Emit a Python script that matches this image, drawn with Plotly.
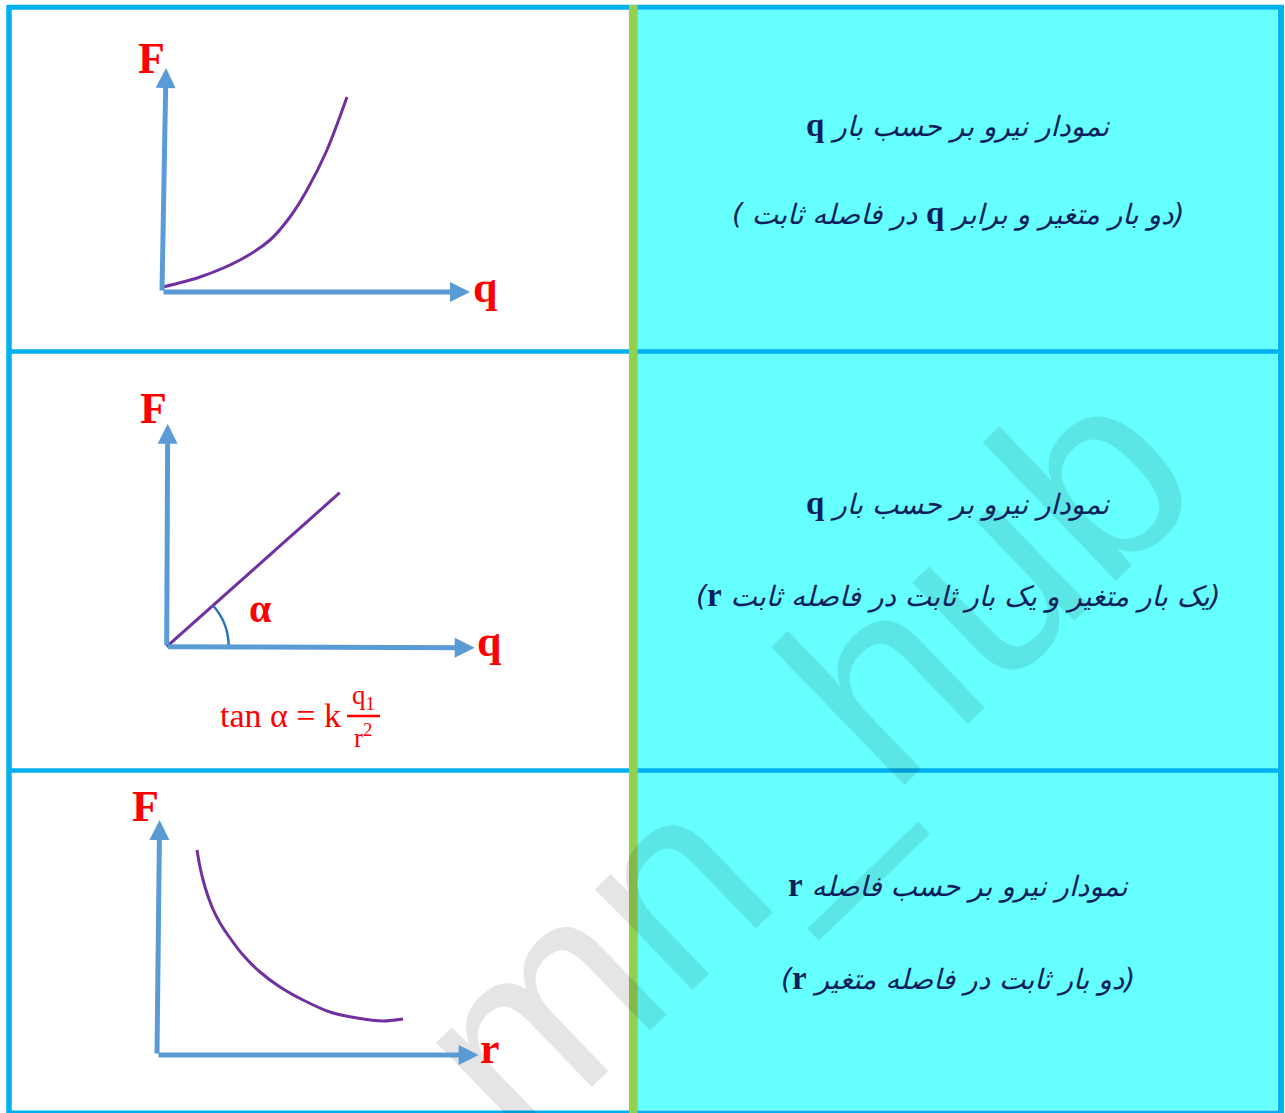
import plotly.graph_objects as go

W, H = 1285, 1113

# ---------------- data (sketch units: 1 unit ~ 1 px, origin at the axes corner) ----------------
# Row 1: F vs q (two equal variable charges, fixed distance)
curve1_q = [1, 38, 78, 108, 128, 145, 165, 185]
curve1_F = [5, 15, 32, 52, 75, 102, 142, 195]
# Row 2: F vs q (one variable charge, one fixed charge)
line2_q = [0, 173]
line2_F = [0, 154]
# Row 3: F vs r (two fixed charges, variable distance)
curve3_r = [40, 43, 48, 55, 63, 73, 86, 103, 123, 146, 173, 200, 226, 246]
curve3_F = [205, 188, 168, 148, 132, 117, 100, 83, 68, 55, 43, 37, 34, 36]

x_labels = ["q", "q", "r"]
y_labels = ["F", "F", "F"]

# right-column texts
row_title = ["نمودار نیرو بر حسب بار ", "نمودار نیرو بر حسب بار ", "نمودار نیرو بر حسب فاصله "]
row_title_var = ["q", "q", "r"]
row_note_pre = ["(دو بار متغیر و برابر ", "(یک بار متغیر و یک بار ثابت در فاصله ثابت ", "(دو بار ثابت در فاصله متغیر "]
row_note_var = ["q", "r", "r"]
row_note_post = [" در فاصله ثابت )", ")", ")"]

# ---------------- layout geometry (pixels) ----------------
origins = [(162, 292), (166.7, 646.7), (157, 1055)]
row_bounds = [(10, 349), (353, 768), (773, 1111)]
cell_left, cell_right = 12, 629
y_tips = [(4, 224), (1, 223), (2.6, 235)]
x_tips = [(308, 0), (308, -1), (321.6, 0)]
y_label_pos = [(-11, 234), (-13.7, 238), (-12, 249)]
x_label_pos = [(323, 5), (323, 5.7), (333, 6.4)]
title_y = [125, 503, 885]
note_y = [213, 595, 978]

BLUE_AX = "#5b9bd5"
PURPLE = "#7030a0"
RED = "#ff0000"
NAVY = "#0b1f5c"
CYAN = "#66ffff"
BORDER = "#00b0f0"
GREEN = "#92d050"


def px(x):
    return x / W


def py(y):
    return 1 - y / H


fig = go.Figure()
layout_axes = {}
for i in range(3):
    ox, oy = origins[i]
    yt, yb = row_bounds[i]
    n = "" if i == 0 else str(i + 1)
    layout_axes["xaxis" + n] = dict(domain=[px(cell_left), px(cell_right)],
                                    range=[cell_left - ox, cell_right - ox],
                                    visible=False, fixedrange=True,
                                    anchor="y" + n)
    layout_axes["yaxis" + n] = dict(domain=[py(yb), py(yt)],
                                    range=[oy - yb, oy - yt],
                                    visible=False, fixedrange=True,
                                    anchor="x" + n)

curves = [(curve1_q, curve1_F), (line2_q, line2_F), (curve3_r, curve3_F)]
for i, (xs, ys) in enumerate(curves):
    n = "" if i == 0 else str(i + 1)
    fig.add_trace(go.Scatter(x=xs, y=ys, mode="lines",
                             line=dict(color=PURPLE, width=3, shape="spline", smoothing=0.8),
                             xaxis="x" + n, yaxis="y" + n, showlegend=False,
                             hoverinfo="skip"))

annotations = []
# watermark
annotations.append(dict(text="mn_hub", x=px(801), y=py(757), xref="paper", yref="paper",
                        showarrow=False, textangle=-44, xanchor="center", yanchor="middle",
                        font=dict(family="Liberation Sans, Arial", size=265,
                                  color="rgba(0,0,0,0.10)")))

for i in range(3):
    n = "" if i == 0 else str(i + 1)
    xr, yr = "x" + n, "y" + n
    # axis arrows
    for tip in (y_tips[i], x_tips[i]):
        annotations.append(dict(x=tip[0], y=tip[1], ax=0, ay=0, xref=xr, yref=yr,
                                axref=xr, ayref=yr, text="", showarrow=True,
                                arrowhead=2, arrowsize=0.8, arrowwidth=5,
                                arrowcolor=BLUE_AX, standoff=0, startstandoff=0))
    # axis labels
    annotations.append(dict(x=y_label_pos[i][0], y=y_label_pos[i][1], xref=xr, yref=yr,
                            text="<b>%s</b>" % y_labels[i], showarrow=False,
                            font=dict(family="Liberation Serif, Times New Roman", size=44, color=RED)))
    annotations.append(dict(x=x_label_pos[i][0], y=x_label_pos[i][1], xref=xr, yref=yr,
                            text="<b>%s</b>" % x_labels[i], showarrow=False,
                            font=dict(family="Liberation Serif, Times New Roman", size=44, color=RED)))

# alpha label
annotations.append(dict(x=93, y=38, xref="x2", yref="y2", text="<b>α</b>", showarrow=False,
                        font=dict(family="Liberation Serif, Times New Roman", size=40, color=RED)))

# formula tan α = k q1 / r^2
annotations.append(dict(x=px(343), y=py(715), xref="paper", yref="paper", text="tan α = k",
                        showarrow=False, xanchor="right", yanchor="middle",
                        font=dict(family="Liberation Serif", size=34, color=RED)))
annotations.append(dict(x=px(363), y=py(697), xref="paper", yref="paper", text="q<sub>1</sub>",
                        showarrow=False, xanchor="center", yanchor="middle",
                        font=dict(family="Liberation Serif", size=27, color=RED)))
annotations.append(dict(x=px(363), y=py(736), xref="paper", yref="paper", text="r<sup>2</sup>",
                        showarrow=False, xanchor="center", yanchor="middle",
                        font=dict(family="Liberation Serif", size=27, color=RED)))

VAR_SPAN = '<span style="font-family:Liberation Serif;font-weight:bold;font-style:normal;font-size:33px">%s</span>'
RLE, PDF = "\u202B", "\u202C"
for i in range(3):
    t1 = RLE + row_title[i] + VAR_SPAN % row_title_var[i] + PDF
    t2 = RLE + row_note_pre[i] + VAR_SPAN % row_note_var[i] + row_note_post[i] + PDF
    for txt, yy in ((t1, title_y[i]), (t2, note_y[i])):
        annotations.append(dict(x=px(958), y=py(yy), xref="paper", yref="paper", text=txt,
                                showarrow=False, xanchor="center", yanchor="middle",
                                font=dict(family="DejaVu Sans", size=28, color=NAVY, style="italic")))

shapes = []
# right column cyan cells
shapes.append(dict(type="rect", xref="paper", yref="paper", x0=px(637), x1=px(1277),
                   y0=py(1110), y1=py(10), fillcolor=CYAN, line=dict(width=0), layer="below"))
# fraction bar
shapes.append(dict(type="line", xref="paper", yref="paper", x0=px(347), x1=px(380),
                   y0=py(716), y1=py(716), line=dict(color=RED, width=2.5)))
# angle arc (row 2)
shapes.append(dict(type="path", xref="x2", yref="y2", path="M 62,0 Q 62,23.6 46.3,41.2",
                   line=dict(color="#2e75b6", width=2.5)))


# table borders
def hline(y, w, x0=7, x1=1284):
    shapes.append(dict(type="line", xref="paper", yref="paper", x0=px(x0), x1=px(x1),
                       y0=py(y), y1=py(y), line=dict(color=BORDER, width=w)))


def vline(x, w, color=BORDER, y0=5, y1=1113):
    shapes.append(dict(type="line", xref="paper", yref="paper", x0=px(x), x1=px(x),
                       y0=py(y0), y1=py(y1), line=dict(color=color, width=w)))


hline(7.3, 5)
hline(351.5, 4.5)
hline(770.5, 4.5)
hline(1112, 3)
vline(9, 5.5)
vline(1281, 6)
vline(633.3, 8.7, GREEN, 5, 1113)

fig.update_layout(width=W, height=H, margin=dict(l=0, r=0, t=0, b=0),
                  paper_bgcolor="white", plot_bgcolor="rgba(0,0,0,0)",
                  showlegend=False, annotations=annotations, shapes=shapes,
                  **layout_axes)

fig.write_html("out.html", config={"displayModeBar": False},
               post_script="document.body.style.margin='0';")
